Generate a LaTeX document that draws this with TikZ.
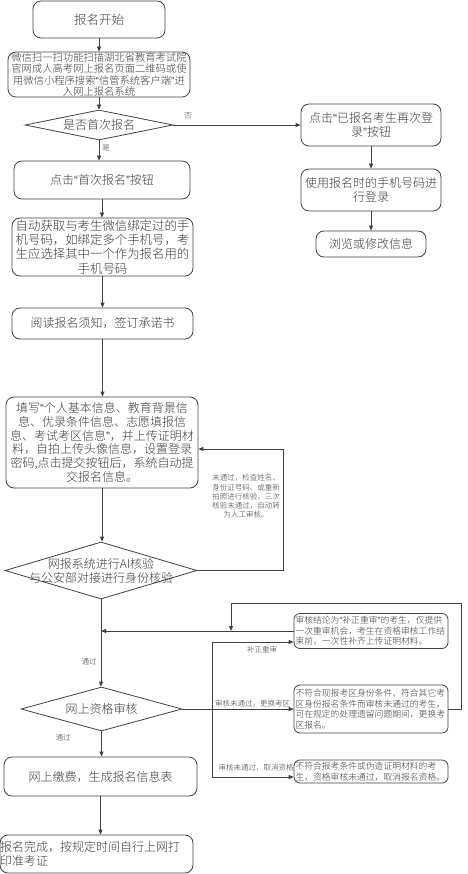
\documentclass[tikz,border=0pt]{standalone}
\usepackage{fontspec}
\setmainfont{Noto Sans CJK SC}[UprightFont=* Light]
\newfontfamily\latf{Liberation Sans}
\newcommand\qtl{{\latf “}}
\newcommand\qtr{{\latf ”}}
\usetikzlibrary{shapes.geometric,arrows.meta}
\definecolor{ln}{HTML}{404040}
\definecolor{tx}{HTML}{3A3A3A}
\tikzset{
 box/.style={draw=ln, rectangle, rounded corners=8pt, inner sep=0pt, align=center, text=tx, font=\fontsize{12}{14}\selectfont, line width=0.8pt},
 sbox/.style={draw=ln, rectangle, rounded corners=6pt, inner xsep=1.5pt, inner ysep=0pt, align=left, text=tx, font=\fontsize{8.8}{10.5}\selectfont, line width=0.8pt, text width=151pt},
 dia/.style={draw=ln, diamond, inner sep=0pt, line width=0.8pt},
 dtext/.style={text=tx, font=\fontsize{12}{14}\selectfont, align=center, inner sep=0pt},
 arr/.style={draw=ln, line width=0.8pt, -{Triangle[length=5pt,width=4pt]}},
 plain/.style={draw=ln, line width=0.8pt},
 elab/.style={text=tx, font=\fontsize{7.5}{9.3}\selectfont, inner sep=0pt, align=center},
}
\begin{document}
\begin{tikzpicture}[x=1pt,y=-1pt]
\useasboundingbox (0,0) rectangle (467,874);
% main column
\node[box, minimum width=132pt, minimum height=37pt, font=\fontsize{12.5}{15}\selectfont] (b1) at (99,19.5) {报名开始};
\node[box, minimum width=182pt, minimum height=45pt, font=\fontsize{10.3}{11.6}\selectfont] (b2) at (99,74.5) {微信扫一扫功能扫描湖北省教育考试院\\官网成人高考网上报名页面二维码或使\\用微信小程序搜索\qtl 信管系统客户端\qtr 进\\入网上报名系统};
\node[dia, minimum width=148pt, minimum height=30pt, label={[dtext]center:是否首次报名}] (d1) at (99,125) {};
\node[box, minimum width=176pt, minimum height=38pt] (b4) at (102,180) {点击\qtl 首次报名\qtr 按钮};
\node[box, minimum width=181pt, minimum height=58pt, font=\fontsize{12.4}{14.3}\selectfont] (b8) at (102.5,247) {自动获取与考生微信绑定过的手\\机号码，如绑定多个手机号，考\\生应选择其中一个作为报名用的\\手机号码};
\node[box, minimum width=181pt, minimum height=31pt] (b9) at (102.5,323.5) {阅读报名须知，签订承诺书};
\node[box, minimum width=192pt, minimum height=91pt, font=\fontsize{12}{13.8}\selectfont] (b10) at (102,442.5) {填写\qtl 个人基本信息、教育背景信\\息、优录条件信息、志愿填报信\\息、考试考区信息\qtr ，并上传证明材\\料，自拍上传头像信息，设置登录\\密码,点击提交按钮后，系统自动提\\交报名信息。};
\node[dia, minimum width=192pt, minimum height=57pt, label={[dtext]center:网报系统进行AI核验\\与公安部对接进行身份核验}] (d2) at (101,570.5) {};
\node[dia, minimum width=161pt, minimum height=44pt, label={[dtext]center:网上资格审核}] (d3) at (101.5,709) {};
\node[box, minimum width=193pt, minimum height=39pt] (b14) at (100.5,776.5) {网上缴费，生成报名信息表};
\node[box, align=left, text width=193pt, minimum height=38pt] (b15) at (96.5,854) {报名完成，按规定时间自行上网打\\印准考证};
% right column
\node[box, minimum width=140pt, minimum height=42pt] (b5) at (371,125) {点击\qtl 已报名考生再次登\\录\qtr 按钮};
\node[box, minimum width=140pt, minimum height=42pt] (b6) at (371,190) {使用报名时的手机号码进\\行登录};
\node[box, minimum width=110pt, minimum height=26pt] (b7) at (371,244) {浏览或修改信息};
\node[sbox, minimum height=35pt] (bA) at (371,631) {审核结论为\qtl 补正重审\qtr 的考生，仅提供\\一次重审机会，考生在资格审核工作结\\束前，一次性补齐上传证明材料。};
\node[sbox, minimum height=48pt] (bB) at (371,709) {不符合现报考区身份条件、符合其它考\\区身份报名条件而审核未通过的考生，\\可在规定的处理遗留问题期间，更换考\\区报名。};
\node[sbox, minimum height=23pt] (bC) at (371,771.5) {不符合报考条件或伪造证明材料的考\\生，资格审核未通过，取消报名资格。};
% connectors
\draw[arr] (b1.south) -- (b2.north);
\draw[arr] (b2.south) -- (d1.north);
\draw[arr] (d1.south) -- (d1.south |- b4.north);
\node[elab] (l1) at (106,148) {是};
\draw[arr] (d1.east) -- (b5.west);
\node[elab] (l2) at (188,116) {否};
\draw[arr] (b5) -- (b6);
\draw[arr] (b6) -- (b7);
\draw[arr] (b4.south) -- (b4.south |- b8.north);
\draw[arr] (b8.south) -- (b8.south |- b9.north);
\draw[arr] (b9.south) -- (b9.south |- b10.north);
\draw[arr] (b10.south) -- (b10.south |- d2.north);
\coordinate (c1) at (283,449);
\draw[arr] (d2.east) -| (c1) -- (c1 -| b10.east);
\node[elab] (l3) at (246,496.5) {未通过，检查姓名、\\身份证号码、或重新\\拍照进行核验，三次\\核验未通过，自动转\\为人工审核。};
\draw[arr] (d2.south) -- (d2.south |- d3.north);
\node[elab] (l4) at (89,662) {通过};
\draw[arr] (d3.south) -- (d3.south |- b14.north);
\node[elab] (l5) at (63,738) {通过};
\draw[arr] (b14.south) -- (b14.south |- b15.north);
\draw[arr] (d3.east) -- (bB.west);
\node[elab] (l6) at (252.5,704) {审核未通过，更换考区};
\coordinate (c2) at (212,642);
\coordinate (c3) at (212,777);
\draw[plain] (c2) -- (c3);
\draw[arr] (c2) -- (c2 -| bA.west);
\node[elab] (l7) at (262,649.5) {补正重审};
\draw[arr] (c3) -- (c3 -| bC.west);
\node[elab] (l8) at (256,768) {审核未通过，取消资格};
\draw[arr] (bA.west) -- (bA.west -| d2.south);
\coordinate (c5) at (461,603);
\coordinate (c6) at (231,631);
\draw[arr] (bB.east) -| (c5) -| (c6);
\end{tikzpicture}
\end{document}
